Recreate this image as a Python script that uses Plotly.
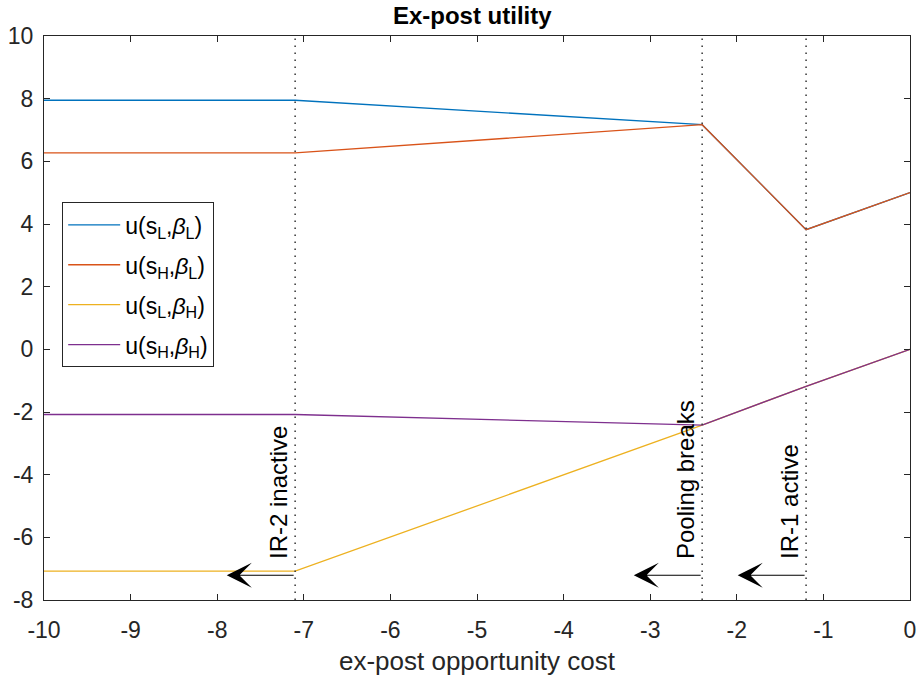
import plotly.graph_objects as go

# x breakpoints of the piecewise-linear curves
x_pts = [-10, -7.10, -2.40, -1.20, 0]
u_sL_bL = [7.95, 7.95, 7.17, 3.82, 5.0]
u_sH_bL = [6.27, 6.27, 7.17, 3.82, 5.0]
u_sL_bH = [-7.08, -7.08, -2.42, -1.18, 0.0]
u_sH_bH = [-2.08, -2.08, -2.42, -1.18, 0.0]

series_names = ["u(s<sub>L</sub>,<i>β</i><sub>L</sub>)",
                "u(s<sub>H</sub>,<i>β</i><sub>L</sub>)",
                "u(s<sub>L</sub>,<i>β</i><sub>H</sub>)",
                "u(s<sub>H</sub>,<i>β</i><sub>H</sub>)"]
series_colors = ["#0072BD", "#D95319", "#EDB120", "#7E2F8E"]

thresholds = [-7.10, -2.40, -1.20]
threshold_labels = ["IR-2 inactive", "Pooling breaks", "IR-1 active"]
arrow_y = -7.21
arrow_len = 0.79
label_bottom = -6.75

x_ticks = list(range(-10, 1))
x_tick_labels = [str(v) for v in x_ticks]
y_ticks = list(range(-8, 11, 2))
y_tick_labels = [str(v) for v in y_ticks]

fig = go.Figure()
for i, (name, ys, col) in enumerate(zip(series_names, [u_sL_bL, u_sH_bL, u_sL_bH, u_sH_bH], series_colors)):
    fig.add_trace(go.Scatter(x=x_pts, y=ys, mode="lines", name=name, legendgroup=f"g{i}",
                             line=dict(color=col, width=1.3)))

for t, lab in zip(thresholds, threshold_labels):
    fig.add_shape(type="line", xref="x", yref="paper", x0=t, x1=t, y0=0, y1=1,
                  line=dict(color="#404040", width=1.6, dash="1.6px,5.4px"))
    fig.add_annotation(x=t - arrow_len, y=arrow_y, ax=t, ay=arrow_y,
                       xref="x", yref="y", axref="x", ayref="y",
                       showarrow=True, arrowhead=3, arrowsize=3.8, arrowwidth=1.1,
                       arrowcolor="black", text="")
    fig.add_annotation(x=t, y=label_bottom, xref="x", yref="y", text=lab,
                       textangle=-90, showarrow=False, xanchor="right", yanchor="bottom",
                       xshift=-1, font=dict(size=24, color="black"))

axis_common = dict(showline=True, linecolor="#262626", linewidth=1, mirror="ticks",
                   ticks="inside", ticklen=6, tickcolor="#262626", showgrid=False,
                   zeroline=False, automargin=False, tickfont=dict(size=23, color="#262626"))

fig.update_layout(
    width=917, height=682,
    margin=dict(l=44, r=7, t=36, b=82),
    paper_bgcolor="white", plot_bgcolor="white",
    font=dict(family="Liberation Sans, Arial, sans-serif", color="#262626"),
    title=dict(text="<b>Ex-post utility</b>", xref="container", x=0.515, xanchor="center",
               yref="container", y=0.9765, yanchor="middle",
               font=dict(size=24, color="black")),
    xaxis=dict(range=[-10, 0], tickvals=x_ticks, ticktext=x_tick_labels, ticklabelstandoff=9,
               title=dict(text="ex-post opportunity cost", font=dict(size=26, color="#262626"), standoff=10),
               **axis_common),
    yaxis=dict(range=[-8, 10], tickvals=y_ticks, ticktext=y_tick_labels, ticklabelstandoff=5,
               **axis_common),
    legend=dict(x=0.021, y=0.705, xanchor="left", yanchor="top",
                bgcolor="white", bordercolor="#262626", borderwidth=1,
                font=dict(size=23, color="black"), tracegroupgap=7, itemwidth=52),
    showlegend=True,
)

fig.write_html("out.html", config={"displayModeBar": False},
               post_script="document.body.style.margin='0';")
